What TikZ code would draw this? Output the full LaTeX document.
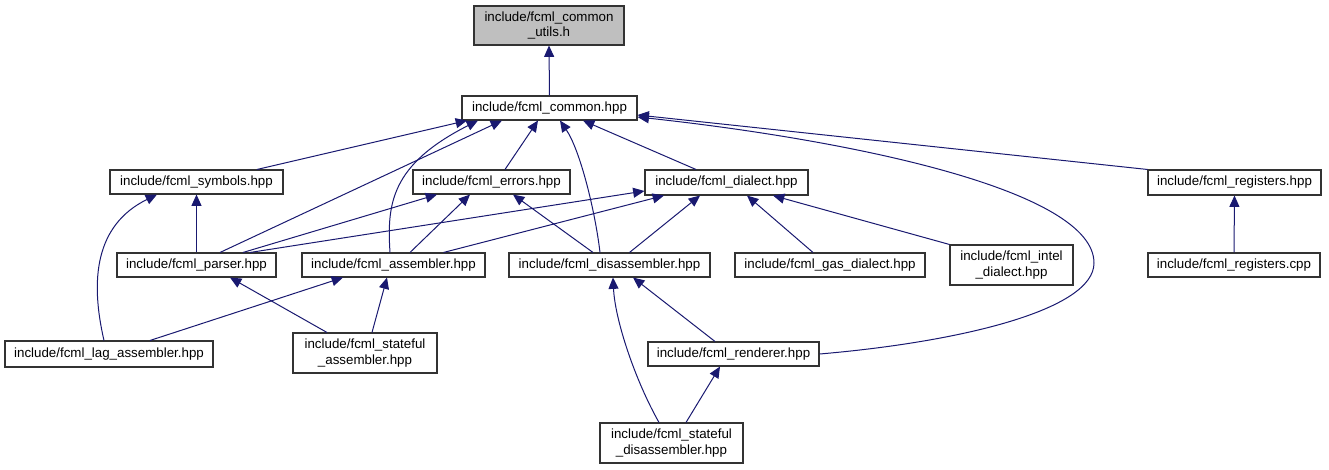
\documentclass[tikz,border=0pt]{standalone}
\usepackage{fontspec}
\setmainfont{Liberation Sans}
\usetikzlibrary{arrows.meta,calc}
\definecolor{edgec}{HTML}{191970}
\definecolor{graybox}{HTML}{BFBFBF}
\tikzset{
  filebox/.style={draw=black!80, line width=0.8pt, fill=white, inner sep=0pt,
    font=\fontsize{10}{11.5}\selectfont, align=center},
  dep/.style={draw=edgec, line width=0.75pt, -{Triangle[length=8.5pt,width=7.5pt]}},
}
\newcommand\mkbox[7][]{%
  \node[filebox,#1,minimum width={(#5-#3)*0.75pt},minimum height={(#6-#4)*0.75pt}]
    (#2) at ({(#3+#5)/2},{(#4+#6)/2}) {#7};}
\begin{document}
\begin{tikzpicture}[x=0.75pt,y=-0.75pt]
\useasboundingbox (0,0) rectangle (1329,469);
% nodes
\mkbox[fill=graybox]{utils}{474}{6}{624}{45}{include/fcml\_common\\\_utils.h}
\mkbox{common}{462}{96}{637}{120}{include/fcml\_common.hpp}
\mkbox{symbols}{110}{170}{283}{194}{include/fcml\_symbols.hpp}
\mkbox{errors}{413}{170}{570}{194}{include/fcml\_errors.hpp}
\mkbox{dialect}{645}{170}{808}{195}{include/fcml\_dialect.hpp}
\mkbox{reghpp}{1148}{170}{1321}{195}{include/fcml\_registers.hpp}
\mkbox{parser}{117}{253}{276}{277}{include/fcml\_parser.hpp}
\mkbox{assembler}{302}{253}{485}{277}{include/fcml\_assembler.hpp}
\mkbox{disasm}{509}{253}{710}{277}{include/fcml\_disassembler.hpp}
\mkbox{gas}{735}{253}{925}{277}{include/fcml\_gas\_dialect.hpp}
\mkbox{intel}{950}{245}{1073}{285}{include/fcml\_intel\\\_dialect.hpp}
\mkbox{regcpp}{1148}{253}{1320}{277}{include/fcml\_registers.cpp}
\mkbox{lag}{5}{341}{213}{367}{include/fcml\_lag\_assembler.hpp}
\mkbox{statasm}{293}{333}{437}{373}{include/fcml\_stateful\\\_assembler.hpp}
\mkbox{renderer}{648}{342}{819}{366}{include/fcml\_renderer.hpp}
\mkbox{statdis}{600}{423}{743}{463}{include/fcml\_stateful\\\_disassembler.hpp}
% edges
\draw[dep] (common.north) -- (utils.south);
\draw[dep] ($(symbols.north)+(60.5,0)$) -- ($(common.south)+(-82.5,0)$);
\draw[dep] ($(assembler.north)+(-3.5,0)$) .. controls (387,205) and (390,165) .. ($(common.south)+(-71.5,0)$);
\draw[dep] ($(parser.north)+(23.5,0)$) -- ($(common.south)+(-47.5,0)$);
\draw[dep] ($(errors.north)+(13.5,0)$) -- ($(common.south)+(-11.5,0)$);
\draw[dep] ($(disasm.north)+(-9.5,0)$) .. controls (595,210) and (580,150) .. ($(common.south)+(10.5,0)$);
\draw[dep] ($(dialect.north)+(-30.5,0)$) -- ($(common.south)+(33.5,0)$);
\draw[dep] (renderer.east) .. controls (960,342) and (1094,310) .. (1094,263)
   .. controls (1094,190) and (850,140) .. ($(common.east)+(0,9)$);
\draw[dep] (reghpp.north west) -- ($(common.east)+(0,7)$);
\draw[dep] (parser.north) -- (symbols.south);
\draw[dep] ($(lag.north)+(-5,0)$) .. controls (90,280) and (95,225) .. ($(symbols.south)+(-39.5,0)$);
\draw[dep] ($(parser.north)+(46.5,0)$) -- ($(errors.south)+(-54.5,0)$);
\draw[dep] ($(assembler.north)+(16.5,0)$) -- ($(errors.south)+(-21.5,0)$);
\draw[dep] ($(disasm.north)+(-16.5,0)$) -- ($(errors.south)+(21.5,0)$);
\draw[dep] ($(parser.north)+(53.5,0)$) -- ($(dialect.west)+(0,8.5)$);
\draw[dep] ($(assembler.north)+(50,0)$) -- ($(dialect.south)+(-62.5,0)$);
\draw[dep] ($(disasm.north)+(20,0)$) -- ($(dialect.south)+(-26.5,0)$);
\draw[dep] ($(gas.north)+(-17,0)$) -- ($(dialect.south)+(20.5,0)$);
\draw[dep] (intel.north west) -- ($(dialect.south)+(46.5,0)$);
\draw[dep] ($(lag.north)+(41,0)$) -- ($(assembler.south)+(-50.5,0)$);
\draw[dep] ($(statasm.north)+(7,0)$) -- ($(assembler.south)+(-6.5,0)$);
\draw[dep] ($(statasm.north)+(-38,0)$) -- ($(parser.south)+(33.5,0)$);
\draw[dep] ($(renderer.north)+(-18.5,0)$) -- ($(disasm.south)+(23.5,0)$);
\draw[dep] ($(statdis.north)+(-12.5,0)$) .. controls (635,380) and (615,320) .. ($(disasm.south)+(3.5,0)$);
\draw[dep] ($(statdis.north)+(14.5,0)$) -- ($(renderer.south)+(-13.5,0)$);
\draw[dep] (regcpp.north) -- (reghpp.south);
\end{tikzpicture}
\end{document}
